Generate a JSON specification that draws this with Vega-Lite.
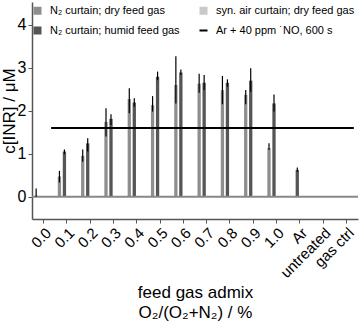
{
  "$schema": "https://vega.github.io/schema/vega-lite/v6.json",
  "autosize": "none",
  "width": 326,
  "height": 217,
  "padding": {"left": 32, "top": 2, "right": 1, "bottom": 105},
  "config": {
    "font": "Liberation Sans",
    "view": {"stroke": null},
    "axis": {"grid": false, "domainColor": "#555555", "tickColor": "#555555", "labelColor": "#000000", "titleColor": "#000000", "titleFontWeight": "normal", "domainWidth": 1.5}
  },
  "datasets": {
    "bars": [
      {"cat": "0.0", "series": "N₂ curtain; dry feed gas", "v": 0.02, "lo": 0.0, "hi": 0.19},
      {"cat": "0.1", "series": "N₂ curtain; dry feed gas", "v": 0.47, "lo": 0.33, "hi": 0.60},
      {"cat": "0.2", "series": "N₂ curtain; dry feed gas", "v": 0.95, "lo": 0.81, "hi": 1.10},
      {"cat": "0.3", "series": "N₂ curtain; dry feed gas", "v": 1.74, "lo": 1.40, "hi": 2.06},
      {"cat": "0.4", "series": "N₂ curtain; dry feed gas", "v": 2.27, "lo": 1.94, "hi": 2.52},
      {"cat": "0.5", "series": "N₂ curtain; dry feed gas", "v": 2.13, "lo": 1.98, "hi": 2.34},
      {"cat": "0.6", "series": "N₂ curtain; dry feed gas", "v": 2.60, "lo": 2.17, "hi": 3.27},
      {"cat": "0.7", "series": "N₂ curtain; dry feed gas", "v": 2.63, "lo": 2.42, "hi": 2.86},
      {"cat": "0.8", "series": "N₂ curtain; dry feed gas", "v": 2.48, "lo": 2.15, "hi": 2.81},
      {"cat": "0.9", "series": "N₂ curtain; dry feed gas", "v": 2.37, "lo": 2.15, "hi": 2.48},
      {"cat": "1.0", "series": "N₂ curtain; dry feed gas", "v": 1.13, "lo": 1.09, "hi": 1.24},
      {"cat": "0.1", "series": "N₂ curtain; humid feed gas", "v": 1.05, "lo": 0.99, "hi": 1.10},
      {"cat": "0.2", "series": "N₂ curtain; humid feed gas", "v": 1.24, "lo": 1.05, "hi": 1.36},
      {"cat": "0.3", "series": "N₂ curtain; humid feed gas", "v": 1.81, "lo": 1.67, "hi": 1.92},
      {"cat": "0.4", "series": "N₂ curtain; humid feed gas", "v": 2.19, "lo": 2.09, "hi": 2.29},
      {"cat": "0.5", "series": "N₂ curtain; humid feed gas", "v": 2.79, "lo": 2.71, "hi": 2.91},
      {"cat": "0.6", "series": "N₂ curtain; humid feed gas", "v": 2.89, "lo": 2.83, "hi": 2.96},
      {"cat": "0.7", "series": "N₂ curtain; humid feed gas", "v": 2.65, "lo": 2.48, "hi": 2.83},
      {"cat": "0.8", "series": "N₂ curtain; humid feed gas", "v": 2.65, "lo": 2.56, "hi": 2.73},
      {"cat": "0.9", "series": "N₂ curtain; humid feed gas", "v": 2.70, "lo": 2.44, "hi": 2.99},
      {"cat": "1.0", "series": "N₂ curtain; humid feed gas", "v": 2.17, "lo": 1.98, "hi": 2.38},
      {"cat": "Ar", "series": "N₂ curtain; humid feed gas", "v": 0.62, "lo": 0.58, "hi": 0.68}
    ],
    "ref": [
      {"cat": "0.0", "cat2": "gas ctrl", "v": 1.6}
    ],
    "zero": [
      {"v": 0}
    ]
  },
  "layer": [
    {
      "data": {"name": "bars"},
      "mark": {"type": "bar"},
      "encoding": {
        "x": {
          "field": "cat", "type": "nominal",
          "scale": {"domain": ["0.0","0.1","0.2","0.3","0.4","0.5","0.6","0.7","0.8","0.9","1.0","Ar","untreated","gas ctrl"], "paddingInner": 0, "paddingOuter": 0},
          "axis": {
            "title": ["feed gas admix", "O₂/(O₂+N₂) / %"],
            "titleFontSize": 17,
            "titleLineHeight": 20,
            "labelFontSize": 15,
            "labelAngle": -45,
            "tickSize": 4,
            "labelPadding": 2
          }
        },
        "xOffset": {
          "field": "series", "type": "nominal",
          "scale": {"domain": ["N₂ curtain; dry feed gas", "N₂ curtain; humid feed gas", "syn. air curtain; dry feed gas", "Ar + 40 ppm ˙NO, 600 s"], "paddingInner": 0.34, "paddingOuter": 0.5}
        },
        "y": {
          "field": "v", "type": "quantitative",
          "scale": {"domain": [-0.52, 4.53], "nice": false, "zero": false},
          "axis": {"title": "c[INR] / μM", "titleFontSize": 17, "labelFontSize": 16, "values": [0,1,2,3,4], "tickSize": 4, "labelPadding": 2, "titlePadding": -1}
        },
        "color": {
          "field": "series", "type": "nominal",
          "scale": {"domain": ["N₂ curtain; dry feed gas", "N₂ curtain; humid feed gas", "syn. air curtain; dry feed gas", "Ar + 40 ppm ˙NO, 600 s"], "range": ["#8e8e8e", "#555555", "#c9c9c9", "#000000"]},
          "legend": {
            "title": null,
            "orient": "none",
            "legendX": 0,
            "legendY": 3,
            "columns": 2,
            "gridAlign": "each",
            "columnPadding": 15,
            "rowPadding": 3,
            "padding": 0,
            "labelFontSize": 11,
            "labelOffset": 7,
            "symbolSize": 64,
            "symbolType": "square",
            "labelLimit": 300,
            "encode": {
              "symbols": {
                "update": {
                  "shape": [{"test": "datum.value === 'Ar + 40 ppm ˙NO, 600 s'", "value": "stroke"}, {"value": "square"}],
                  "stroke": [{"test": "datum.value === 'Ar + 40 ppm ˙NO, 600 s'", "value": "#000000"}, {"value": "transparent"}],
                  "strokeWidth": {"value": 2}
                }
              }
            }
          }
        }
      }
    },
    {
      "data": {"name": "zero"},
      "mark": {"type": "rule", "color": "#888888", "strokeWidth": 2},
      "encoding": {"y": {"field": "v", "type": "quantitative"}}
    },
    {
      "data": {"name": "bars"},
      "mark": {"type": "rule", "color": "#000000", "strokeWidth": 1.2},
      "encoding": {
        "x": {"field": "cat", "type": "nominal"},
        "xOffset": {"field": "series", "type": "nominal"},
        "y": {"field": "lo", "type": "quantitative"},
        "y2": {"field": "hi"}
      }
    },
    {
      "data": {"name": "ref"},
      "mark": {"type": "rule", "color": "#000000", "strokeWidth": 2},
      "encoding": {
        "x": {"field": "cat", "type": "nominal", "bandPosition": 0.82},
        "x2": {"field": "cat2", "bandPosition": 0.82},
        "y": {"field": "v", "type": "quantitative"}
      }
    }
  ]
}
